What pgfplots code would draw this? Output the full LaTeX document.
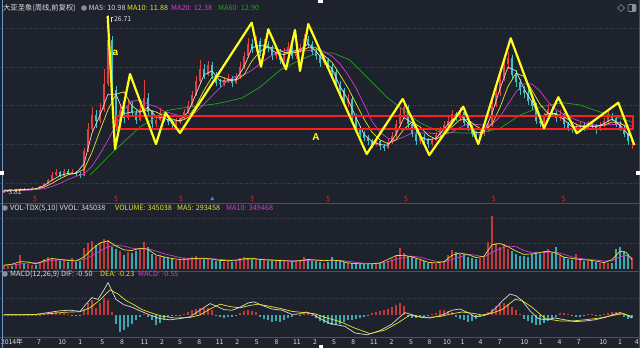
\documentclass[border=0pt]{standalone}
\usepackage{pgfplots}
\pgfplotsset{compat=1.18}
\usepackage{pgfplotstable}
\usepackage{fontspec}
\setmainfont{Noto Sans CJK SC}
\newfontfamily\boldlat{Liberation Sans}
\definecolor{bg}{HTML}{1E222C}
\definecolor{gridc}{HTML}{3E4554}
\definecolor{sepc}{HTML}{4A5160}
\definecolor{txt}{HTML}{E0E0E0}
\definecolor{upc}{HTML}{E5403E}
\definecolor{dnc}{HTML}{3FC1C4}
\definecolor{vup}{HTML}{C23A3A}
\definecolor{vdn}{HTML}{3AAAB2}
\definecolor{ma5}{HTML}{DADADA}
\definecolor{ma10}{HTML}{E6E62A}
\definecolor{ma20}{HTML}{D63AD6}
\definecolor{ma60}{HTML}{1FA61F}
\definecolor{zig}{HTML}{FFFF1A}
\definecolor{boxc}{HTML}{FF1E1E}
\definecolor{edge}{HTML}{6E9ACB}
\definecolor{icon}{HTML}{8A8F99}
\definecolor{sigb}{HTML}{2E8FE0}
\definecolor{sigr}{HTML}{E02A2A}

\pgfplotstableread{
x o h l c v m
4 3.90 4.10 3.81 4.00 120 0.02
8 4.00 4.20 3.95 4.10 100 0.03
12 4.10 4.20 3.98 4.05 90 0.02
16 4.05 4.30 4.00 4.20 140 0.04
20 4.20 4.45 4.15 4.30 440 0.06
24 4.30 4.35 4.05 4.15 200 0.03
28 4.15 4.40 4.10 4.30 150 0.04
32 4.30 4.50 4.20 4.35 130 0.05
36 4.35 4.45 4.20 4.30 110 0.04
40 4.30 4.70 4.25 4.60 200 0.08
44 4.60 5.10 4.55 4.90 300 0.15
48 4.90 5.60 4.85 5.40 380 0.30
52 5.40 6.40 5.30 6.10 350 0.45
56 6.10 6.90 6.00 6.40 320 0.50
60 6.40 6.60 5.80 6.00 250 0.35
64 6.00 6.90 5.90 6.60 280 0.30
68 6.60 6.80 6.10 6.30 220 0.10
72 6.30 6.80 6.20 6.50 330 -0.15
76 6.50 6.60 6.00 6.20 210 -0.25
80 6.20 6.40 5.70 6.00 260 -0.20
84 6.00 9.50 5.90 9.20 660 1.00
88 9.20 12.80 9.00 12.00 800 2.00
92 12.00 14.90 11.60 13.80 880 2.50
96 13.80 14.40 12.20 13.00 760 1.20
100 13.00 15.30 12.80 14.50 820 2.00
104 14.50 19.70 14.20 17.80 940 2.80
108 17.80 26.71 17.50 23.50 900 2.50
112 23.50 24.00 16.20 17.00 690 0.50
116 17.00 17.60 11.80 12.30 620 -1.50
120 12.30 15.20 12.00 14.50 560 -2.80
124 14.50 15.00 12.80 13.40 450 -2.50
128 13.40 15.80 13.20 15.00 520 -2.00
132 15.00 15.60 13.60 14.10 500 -1.50
136 14.10 14.40 12.60 13.20 580 -0.80
140 13.20 15.40 13.00 14.60 620 -0.30
144 14.60 18.30 14.40 16.00 850 0.20
148 16.00 16.60 13.80 14.20 700 -0.30
152 14.20 14.50 12.20 12.60 480 -0.80
156 12.60 13.80 12.30 13.20 420 -1.60
160 13.20 14.70 13.00 14.00 450 -1.40
164 14.00 14.30 12.90 13.30 380 -0.80
168 13.30 13.60 12.50 12.90 330 -0.40
172 12.90 13.20 12.20 12.60 300 -0.20
176 12.60 13.40 12.40 12.90 280 -0.10
180 12.90 13.80 12.70 13.40 300 -0.10
184 13.40 14.60 13.20 14.20 340 0.20
188 14.20 15.60 14.00 15.00 360 0.50
192 15.00 16.90 14.80 16.40 380 0.80
196 16.40 18.80 16.20 18.20 400 1.00
200 18.20 20.90 18.00 19.80 360 1.20
204 19.80 20.40 18.40 19.00 300 1.10
208 19.00 20.80 18.80 20.30 340 1.20
212 20.30 20.60 18.40 18.90 280 0.80
216 18.90 19.30 17.50 18.00 260 -0.20
220 18.00 18.50 17.30 17.80 240 -0.40
224 17.80 18.70 17.50 18.30 230 -0.50
228 18.30 19.10 18.00 18.60 250 -0.40
232 18.60 18.90 17.40 18.00 220 -0.30
236 18.00 19.20 17.80 18.70 260 -0.10
240 18.70 20.60 18.50 20.00 330 0.30
244 20.00 22.00 19.80 21.40 380 0.60
248 21.40 23.80 21.20 23.00 350 0.80
252 23.00 23.60 21.80 22.40 300 0.70
256 22.40 24.00 22.00 23.40 320 0.50
260 23.40 23.70 21.40 21.90 290 -0.30
264 21.90 23.60 21.60 23.00 300 -0.60
268 23.00 23.40 21.90 22.40 260 -0.90
272 22.40 22.80 20.90 21.40 250 -1.10
276 21.40 22.60 21.00 22.00 240 -1.00
280 22.00 22.30 20.40 20.90 280 -1.10
284 20.90 22.40 20.60 21.80 260 -0.80
288 21.80 23.20 21.50 22.60 230 -0.50
292 22.60 22.90 21.00 21.40 220 -0.30
296 21.40 22.60 21.10 22.10 250 0.10
300 22.10 23.00 21.80 22.50 270 -0.20
304 22.50 24.30 22.30 23.60 380 0.30
308 23.60 24.00 22.40 23.00 300 0.40
312 23.00 23.30 21.50 22.00 260 -0.20
316 22.00 22.40 20.90 21.40 240 -0.50
320 21.40 21.80 20.00 20.50 220 -1.00
324 20.50 21.40 20.20 20.90 200 -1.30
328 20.90 21.20 19.60 20.00 210 -1.50
332 20.00 20.40 18.90 19.40 380 -1.60
336 19.40 19.80 17.20 17.60 260 -1.70
340 17.60 18.20 16.40 17.00 240 -1.50
344 17.00 17.30 15.00 15.40 210 -1.20
348 15.40 16.50 14.80 15.90 190 -0.90
352 15.90 16.10 13.20 13.60 180 -0.80
356 13.60 13.90 11.60 12.00 170 -0.70
360 12.00 12.40 11.00 11.40 160 -0.50
364 11.40 11.80 10.40 10.80 150 -0.30
368 10.80 11.20 10.00 10.40 160 -0.20
372 10.40 10.70 9.60 10.00 150 0.30
376 10.00 10.90 9.80 10.40 170 0.50
380 10.40 10.60 9.30 9.80 180 0.60
384 9.80 10.10 9.20 9.60 200 0.80
388 9.60 10.80 9.40 10.30 260 1.00
392 10.30 11.60 10.10 11.10 320 1.30
396 11.10 13.20 10.90 12.60 420 1.60
400 12.60 14.80 12.30 14.00 660 2.00
404 14.00 15.60 13.50 14.90 500 1.50
408 14.90 15.10 12.20 12.60 420 -0.30
412 12.60 12.90 11.00 11.40 380 -0.50
416 11.40 11.70 10.00 10.40 300 -0.50
420 10.40 11.50 10.10 11.00 280 -0.40
424 11.00 11.30 10.20 10.70 250 -0.30
428 10.70 10.90 9.50 10.10 200 -0.20
432 10.10 11.00 9.80 10.60 180 0.20
436 10.60 11.60 10.40 11.20 170 0.40
440 11.20 12.30 11.00 11.90 220 0.80
444 11.90 13.00 11.70 12.50 250 0.80
448 12.50 13.60 12.20 13.10 450 0.60
452 13.10 14.50 12.90 13.90 600 0.50
456 13.90 14.20 13.00 13.40 520 -0.30
460 13.40 14.80 13.10 14.20 480 -0.60
464 14.20 14.40 12.40 12.80 460 -0.90
468 12.80 13.10 11.80 12.20 380 -1.10
472 12.20 12.50 11.00 11.40 340 -1.00
476 11.40 11.80 10.60 11.00 310 -0.70
480 11.00 11.90 10.70 11.40 330 -0.30
484 11.40 12.30 11.10 11.90 380 0.20
488 11.90 13.10 11.60 12.50 850 0.50
492 12.50 15.80 12.30 15.00 1650 1.00
496 15.00 17.50 14.80 16.60 800 1.50
500 16.60 19.60 16.30 18.60 700 1.80
504 18.60 21.50 18.20 20.40 780 2.00
508 20.40 22.00 19.80 21.20 620 1.90
512 21.20 21.60 18.40 19.00 550 1.40
516 19.00 19.60 17.40 18.10 480 0.80
520 18.10 18.50 16.40 17.00 400 0.20
524 17.00 17.60 16.00 16.60 420 -0.60
528 16.60 17.00 15.10 15.60 380 -1.00
532 15.60 16.20 14.50 15.00 460 -1.40
536 15.00 15.30 12.70 13.10 520 -1.60
540 13.10 13.60 12.30 12.80 480 -1.60
544 12.80 14.10 12.50 13.60 560 -1.30
548 13.60 15.20 13.30 14.60 640 -1.00
552 14.60 15.00 13.60 14.00 500 -0.60
556 14.00 14.30 12.90 13.40 680 -0.30
560 13.40 14.40 13.10 13.90 420 0.30
564 13.90 14.10 12.20 12.60 380 0.40
568 12.60 12.90 11.80 12.20 300 0.20
572 12.20 12.50 11.50 11.90 280 -0.20
576 11.90 12.70 11.70 12.30 470 -0.40
580 12.30 12.90 12.00 12.50 300 -0.30
584 12.50 12.80 11.80 12.10 260 -0.20
588 12.10 13.00 11.90 12.60 240 0.20
592 12.60 12.80 12.00 12.40 250 0.20
596 12.40 12.60 11.40 11.90 220 -0.10
600 11.90 12.90 11.70 12.50 200 -0.20
604 12.50 13.40 12.30 13.00 180 0.10
608 13.00 14.30 12.80 13.80 200 0.30
612 13.80 14.10 13.00 13.40 180 0.50
616 13.40 13.70 12.30 12.70 620 0.50
620 12.70 13.10 11.80 12.20 690 0.30
624 12.20 12.50 11.00 11.40 560 -0.30
628 11.40 11.70 9.90 10.40 470 -0.60
632 10.40 10.90 9.40 10.50 345 -0.55
}\kdata

\pgfplotsset{
  panel/.style={scale only axis, width=640pt, xmin=0, xmax=640,
    axis line style={draw=none}, tick style={draw=none}, major tick length=0pt,
    xtick=\empty, yticklabels={}, ymajorgrids,
    grid style={gridc, dotted, line width=0.6pt}, clip=true},
  isup/.style={restrict expr to domain={\thisrow{c}-\thisrow{o}}{0:100}},
  isdn/.style={restrict expr to domain={\thisrow{c}-\thisrow{o}}{-100:-0.001}},
  wick/.style={draw=none, mark=none, forget plot, error bars/.cd, y dir=both, y explicit,
    error mark=none, error bar style={draw=#1, line width=0.6pt}},
  body/.style={draw=none, mark=none, forget plot, error bars/.cd, y dir=both, y explicit,
    error mark=none, error bar style={draw=#1, line width=2.1pt}},
}
\tikzset{ttl/.style={anchor=west, inner sep=0pt, font=\fontsize{7.3}{8}\selectfont}}

\begin{document}
\begin{tikzpicture}[x=1pt,y=1pt]
\fill[bg] (0,0) rectangle (640,348);

% ---------- price panel ----------
\begin{axis}[panel, at={(0pt,147pt)}, anchor=south west, height=189pt,
  ymin=2.72, ymax=27.1, ytick={5,10,15,20,25}]
\addplot[isup, wick=upc]
  table[x=x, y expr={(\thisrow{h}+\thisrow{l})/2}, y error expr={(\thisrow{h}-\thisrow{l})/2}] {\kdata};
\addplot[isdn, wick=dnc]
  table[x=x, y expr={(\thisrow{h}+\thisrow{l})/2}, y error expr={(\thisrow{h}-\thisrow{l})/2}] {\kdata};
\addplot[isup, body=upc]
  table[x=x, y expr={(\thisrow{o}+\thisrow{c})/2}, y error expr={abs(\thisrow{c}-\thisrow{o})/2}] {\kdata};
\addplot[isdn, body=dnc]
  table[x=x, y expr={(\thisrow{o}+\thisrow{c})/2}, y error expr={abs(\thisrow{c}-\thisrow{o})/2}] {\kdata};
% MA60
\addplot[ma60, line width=0.7pt] coordinates {(90,6.07)(115,9.3)(140,12.26)(167,14.4)(187,14.8)(200,15.0)(213,15.2)(220,15.35)(242,16.0)(260,17.4)(280,19.6)(300,20.9)(317,21.8)(333,21.8)(350,20.9)(367,18.7)(387,16.1)(407,14.1)(420,12.8)(440,11.6)(460,11.5)(480,11.5)(500,12.1)(520,13.8)(540,14.85)(563,15.4)(580,15.1)(600,14.2)(620,13.4)(632,12.9)};
% MA20
\addplot[ma20, line width=0.7pt] coordinates {(4,4.1)(12,4.1)(20,4.1)(28,4.1)(36,4.2)(44,4.3)(52,4.6)(60,5.0)(68,5.5)(76,5.9)(84,6.2)(92,7.2)(100,8.8)(108,10.6)(116,12.5)(124,14.5)(132,15.6)(140,15.7)(148,15.2)(156,14.9)(164,14.3)(172,14.0)(180,13.7)(188,13.6)(196,14.2)(204,15.2)(212,16.3)(220,17.3)(228,18.3)(236,18.8)(244,19.0)(252,19.6)(260,20.4)(268,21.2)(276,21.8)(284,22.1)(292,22.2)(300,22.1)(308,22.1)(316,22.3)(324,22.0)(332,21.4)(340,20.4)(348,19.0)(356,17.3)(364,15.2)(372,13.0)(380,11.6)(388,10.8)(396,10.6)(404,11.0)(412,11.5)(420,11.5)(428,11.5)(436,11.4)(444,11.3)(452,11.6)(460,12.2)(468,12.7)(476,12.6)(484,12.5)(492,12.6)(500,13.6)(508,15.2)(516,16.8)(524,17.8)(532,17.8)(540,16.9)(548,15.5)(556,14.5)(564,13.9)(572,13.4)(580,13.0)(588,12.7)(596,12.5)(604,12.5)(612,12.6)(620,12.6)(628,12.45)(632,12.38)};
% MA10
\addplot[ma10, line width=0.7pt] coordinates {(4,4.1)(12,4.1)(20,4.1)(28,4.2)(36,4.3)(44,4.5)(52,5.0)(60,5.6)(68,6.1)(76,6.3)(84,6.8)(92,9.0)(100,11.8)(108,14.5)(116,16.5)(124,16.8)(132,15.0)(140,14.2)(148,14.5)(156,14.2)(164,13.7)(172,13.3)(180,13.0)(188,13.5)(196,15.0)(204,17.0)(212,18.7)(220,18.8)(228,18.4)(236,18.3)(244,19.0)(252,20.8)(260,22.0)(268,22.6)(276,22.4)(284,21.9)(292,21.8)(300,22.0)(308,22.5)(316,22.5)(324,21.5)(332,20.6)(340,19.0)(348,17.3)(356,15.3)(364,13.3)(372,11.6)(380,10.6)(388,10.1)(396,10.6)(404,12.0)(412,12.9)(420,12.3)(428,11.2)(436,10.7)(444,11.3)(452,12.3)(460,13.2)(468,13.2)(476,12.4)(484,11.8)(492,12.6)(500,14.8)(508,17.5)(516,19.2)(524,18.8)(532,17.0)(540,15.2)(548,14.0)(556,13.9)(564,13.6)(572,12.9)(580,12.4)(588,12.4)(596,12.4)(604,12.5)(612,12.9)(620,12.8)(628,12.1)(632,11.88)};
% MA5
\addplot[ma5, line width=0.7pt] coordinates {(4,4.1)(12,4.1)(20,4.2)(28,4.2)(36,4.3)(44,4.7)(52,5.4)(60,6.0)(68,6.3)(76,6.3)(84,7.5)(92,11.5)(100,13.8)(108,16.5)(116,16.5)(124,14.0)(132,14.2)(140,14.2)(148,14.8)(156,13.6)(164,13.4)(172,13.0)(180,13.1)(188,14.2)(196,16.5)(204,19.0)(212,19.5)(220,18.2)(228,18.2)(236,18.4)(244,20.0)(252,22.5)(260,22.8)(268,22.6)(276,21.8)(284,21.6)(292,22.0)(300,22.2)(308,23.0)(316,22.0)(324,20.8)(332,19.8)(340,17.5)(348,15.8)(356,13.5)(364,11.3)(372,10.4)(380,10.0)(388,9.9)(396,11.3)(404,13.5)(412,12.8)(420,11.0)(428,10.6)(436,10.8)(444,12.0)(452,13.2)(460,13.8)(468,12.8)(476,11.5)(484,11.6)(492,14.0)(500,17.2)(508,20.0)(516,19.5)(524,17.2)(532,15.5)(540,13.5)(548,14.0)(556,14.0)(564,13.2)(572,12.3)(580,12.3)(588,12.4)(596,12.3)(604,12.7)(612,13.3)(620,12.5)(628,11.3)(632,10.98)};
% red box
\addplot[boxc, line width=1.4pt] coordinates {(117,13.68)(633,13.68)(633,12.0)(117,12.0)} -- cycle;
% yellow zigzag
\addplot[zig, line width=2.2pt, line join=round] coordinates {(107.7,26.59)(115,9.42)(130,19.10)(156,10.07)(165.7,14.07)(180,11.49)(251.7,25.72)(261,20.04)(268.3,24.87)(286,19.71)(295,24.78)(300,19.49)(308.3,25.55)(366.7,8.78)(402.7,15.88)(429.3,8.65)(463.3,14.88)(478.3,10.07)(510.7,23.71)(544,12.10)(558.3,16.10)(576.7,11.45)(618.3,15.40)(634.3,9.94)};
% signal marks
\addplot[only marks, sigr, mark=text, text mark={\textcolor{sigr}{\fontsize{7}{7}\selectfont\$}}] coordinates {(35,2.98)(116,2.98)(181,2.98)(252.3,2.98)(328.4,2.98)(406.1,2.98)(493.7,2.98)(563.6,2.98)};
\addplot[only marks, sigb, mark=triangle*, mark size=2pt] coordinates {(212.3,2.98)};
% labels
\node[anchor=west, inner sep=0pt, text=txt, font=\fontsize{6.8}{7}\selectfont] at (axis cs:114,26.13) {26.71};
\draw[txt, line width=0.4pt] (axis cs:111,25.85) -- (axis cs:111,26.45) -- (axis cs:113,26.45);
\node[anchor=west, inner sep=0pt, text=txt, font=\fontsize{6.8}{7}\selectfont] at (axis cs:1.5,3.82) {←3.81};
\node[text=zig, inner sep=0pt, font=\boldlat\bfseries\fontsize{10}{10}\selectfont] at (axis cs:115.5,21.8) {a};
\node[text=zig, inner sep=0pt, font=\boldlat\bfseries\fontsize{10}{10}\selectfont] at (axis cs:316,10.98) {A};
\end{axis}

% ---------- volume panel ----------
\begin{axis}[panel, at={(0pt,79pt)}, anchor=south west, height=57pt,
  ymin=0, ymax=1788, ytick={800,1600}]
\addplot[isup, ycomb, vup, line width=1.9pt] table[x=x, y=v] {\kdata};
\addplot[isdn, ycomb, vdn, line width=1.9pt] table[x=x, y=v] {\kdata};
\addplot[ma20, line width=0.7pt] coordinates {(4,110)(16,140)(28,190)(40,200)(52,270)(64,290)(76,270)(84,300)(92,420)(100,560)(108,700)(116,740)(124,720)(132,650)(140,630)(148,640)(156,560)(164,480)(172,420)(180,360)(188,330)(196,320)(204,320)(212,320)(220,300)(228,280)(236,270)(244,290)(252,310)(260,310)(268,300)(276,280)(284,270)(292,260)(300,260)(308,270)(316,280)(324,270)(332,270)(340,270)(348,240)(356,210)(364,180)(372,170)(380,180)(388,230)(396,300)(404,360)(412,400)(420,370)(428,300)(436,240)(444,220)(452,300)(460,380)(468,460)(476,430)(484,380)(492,520)(500,640)(508,720)(516,700)(524,580)(532,510)(540,500)(548,530)(556,530)(564,460)(572,380)(580,330)(588,300)(596,280)(604,250)(612,260)(620,380)(626,430)(632,349)};
\addplot[ma10, line width=0.7pt] coordinates {(4,120)(12,150)(20,230)(28,220)(36,160)(44,260)(52,330)(60,300)(68,270)(76,250)(84,380)(92,620)(100,820)(108,880)(116,720)(124,600)(132,580)(140,650)(148,620)(156,440)(164,380)(172,330)(180,300)(188,310)(196,330)(204,340)(212,310)(220,270)(228,260)(236,280)(244,320)(252,340)(260,300)(268,280)(276,270)(284,260)(292,240)(300,260)(308,300)(316,280)(324,260)(332,280)(340,260)(348,190)(356,170)(364,160)(372,160)(380,190)(388,300)(396,420)(404,430)(412,380)(420,300)(428,210)(436,190)(444,230)(452,430)(460,500)(468,450)(476,360)(484,400)(492,760)(500,800)(508,700)(516,560)(524,460)(532,470)(540,520)(548,560)(556,500)(564,370)(572,330)(580,300)(588,280)(596,250)(604,200)(612,290)(620,560)(626,520)(632,293)};
\end{axis}

% ---------- MACD panel ----------
\begin{axis}[panel, at={(0pt,11pt)}, anchor=south west, height=59pt,
  ymin=-3.667, ymax=6.167, ytick={2.8},
  xtick={12,38.9,62.2,80.2,102.2,121.9,144.4,162,180,199.2,219.6,237.2,256.8,276.5,296.9,314.9,334.1,353.3,373.8,391.4,411,429.5,447,462.5,480.5,499.8,524.3,540.7,559.5,578.7,603.2,620,636.8},
  xticklabels={2014年,7,10,1,5,8,11,2,5,8,11,2,5,8,11,2,5,8,11,2,5,8,10,1,4,7,10,1,4,7,10,1,4},
  xticklabel style={anchor=north, inner sep=0pt, yshift=-2pt, text=txt, font=\fontsize{6.8}{7}\selectfont}]
\addplot[ycomb, vup, line width=1.3pt, restrict y to domain=0:100] table[x=x, y=m] {\kdata};
\addplot[ycomb, vdn, line width=1.3pt, restrict y to domain=-100:-0.0001] table[x=x, y=m] {\kdata};
\addplot[ma5, line width=0.7pt] coordinates {(4,0.05)(20,0.05)(36,0.1)(48,0.4)(60,0.7)(70,0.8)(80,0.6)(86,1.8)(92,2.9)(98,2.6)(104,4.2)(108,5.4)(112,4.0)(116,2.6)(124,1.7)(132,1.3)(140,0.7)(150,0.0)(160,-0.6)(170,-0.8)(180,-0.6)(190,-0.3)(200,0.8)(210,1.9)(216,1.5)(224,0.9)(232,0.8)(240,1.3)(248,2.0)(254,2.2)(262,1.6)(272,1.0)(282,0.8)(292,0.1)(300,0.2)(306,0.5)(312,0.2)(320,-0.6)(330,-1.4)(345,-1.9)(355,-3.0)(367,-3.3)(380,-2.6)(392,-1.5)(400,-0.3)(405,0.4)(413,0.0)(422,-0.4)(430,-0.5)(438,-0.2)(445,0.2)(452,0.8)(460,1.0)(468,0.4)(475,-0.3)(484,-0.1)(490,0.3)(496,1.2)(502,2.3)(510,3.5)(516,3.2)(522,2.4)(530,0.7)(538,-0.6)(546,-0.8)(555,-0.5)(565,-0.8)(575,-1.1)(585,-1.0)(595,-0.8)(605,-0.4)(612,0.0)(620,0.4)(626,0.1)(632,-0.5)};
\addplot[ma10, line width=0.7pt] coordinates {(4,0.03)(30,0.05)(48,0.2)(64,0.45)(80,0.55)(90,1.2)(100,2.5)(110,4.2)(118,3.5)(126,2.4)(134,1.7)(142,0.9)(152,0.3)(162,-0.2)(175,-0.5)(190,-0.4)(200,0.0)(210,1.0)(220,1.8)(230,1.4)(240,1.2)(250,1.6)(258,1.8)(268,1.5)(280,1.1)(292,0.6)(304,0.4)(315,0.2)(325,-0.4)(340,-1.1)(355,-2.2)(370,-3.1)(385,-2.5)(398,-1.3)(410,0.0)(418,-0.3)(428,-0.4)(440,-0.25)(452,0.2)(462,0.5)(472,0.3)(482,0.0)(492,0.3)(502,0.9)(515,2.6)(522,2.4)(532,1.3)(545,-0.6)(560,-1.0)(572,-1.0)(585,-0.8)(600,-0.5)(612,-0.1)(622,0.2)(632,-0.23)};
\end{axis}

% ---------- frame ----------
\draw[sepc, line width=0.6pt] (0,145) -- (640,145);
\draw[sepc, line width=0.6pt] (0,77) -- (640,77);
\draw[sepc, line width=0.6pt] (0,11) -- (640,11);
\draw[edge, line width=1pt] (2,0) -- (2,348);
\draw[sepc, line width=0.8pt] (639.4,0) -- (639.4,348);
\fill[white] (0,173) rectangle (4,177);
\fill[white] (636,173) rectangle (640,177);
\fill[white] (318,344.5) rectangle (323,348);
\fill[white] (319,0) rectangle (323,3);

% titles
\fill[icon] (84,340) circle (2.8);
\node[ttl, text=txt] at (3,340) {大亚圣象(周线,前复权)};
\node[ttl, text=ma5] at (88.5,340) {MA5: 10.98};
\node[ttl, text=ma10] at (127,340) {MA10: 11.88};
\node[ttl, text=ma20] at (171,340) {MA20: 12.38};
\node[ttl, text=ma60] at (218,340) {MA60: 12.90};
\draw[icon, line width=0.6pt] (621,343.5) -- (624.5,340) -- (621,336.5) -- (617.5,340) -- cycle;
\draw[icon, line width=0.6pt, rounded corners=1pt] (628,336.5) rectangle (636,343.5);
\fill[icon] (632,337) rectangle (635.5,343);

\fill[icon] (5,140) circle (2.8);
\node[ttl, text=txt] at (10,140) {VOL-TDX(5,10) VVOL: 345038};
\node[ttl, text=ma10] at (115,140) {VOLUME: 345038};
\node[ttl, text=ma10] at (177,140) {MA5: 293458};
\node[ttl, text=ma20] at (226,140) {MA10: 349468};

\fill[icon] (5,74) circle (2.8);
\node[ttl, text=txt] at (10,74) {MACD(12,26,9) DIF: -0.50};
\node[ttl, text=ma10] at (100,74) {DEA: -0.23};
\node[ttl, text=ma20] at (138,74) {MACD: -0.55};

\pgfresetboundingbox
\path[use as bounding box] (0,0) rectangle (640,348);
\end{tikzpicture}
\end{document}
